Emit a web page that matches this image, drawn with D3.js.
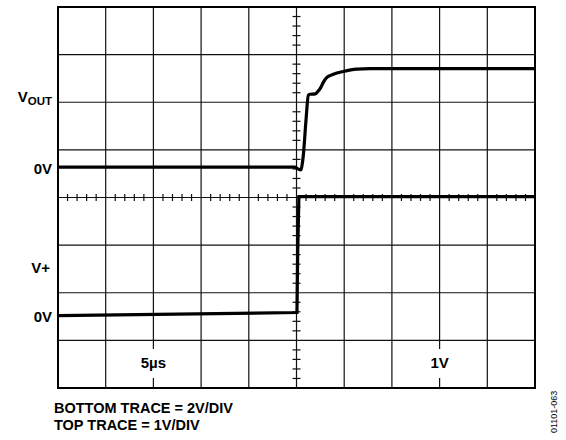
<!DOCTYPE html>
<html>
<head>
<meta charset="utf-8">
<script src="https://cdn.jsdelivr.net/npm/d3@7/dist/d3.min.js"></script>
<style>
  html, body { margin: 0; padding: 0; background: #fff; }
  svg { display: block; font-family: Arial, "Liberation Sans", Helvetica, sans-serif; }
</style>
</head>
<body>
<svg id="chart" width="566" height="440"></svg>
<script>
// Time axis: 5 µs per division, 10 divisions, trigger at centre
const timeDomainUs = [-25, 25];
// Vertical grid: 8 divisions
const divDomain = [-4, 4];

// Top trace (VOUT), 1 V/div
const topTimeUs = [-25, -0.2, 0.19, 0.44, 0.71, 1.0, 1.24, 1.4, 1.95, 2.2, 2.54, 2.81, 3.16, 3.86, 4.9, 6.3, 7.7, 25];
const topVolts  = [0, 0, -0.04, -0.06, 0.24, 1.0, 1.51, 1.53, 1.54, 1.58, 1.67, 1.78, 1.88, 1.95, 2.01, 2.06, 2.07, 2.07];
const topVoltsPerDiv = 1;
const topZeroDiv = 0.637;

// Bottom trace (V+), 2 V/div
const bottomTimeUs = [-25, 0.05, 0.12, 0.25, 25];
const bottomVolts  = [0, 0.13, 2.5, 5.0, 5.0];
const bottomVoltsPerDiv = 2;
const bottomZeroDiv = -2.48;

// Text
const leftLabels = ["V", "OUT", "0V", "V+", "0V"];
const scaleLabels = ["5µs", "1V"];
const noteLines = ["BOTTOM TRACE = 2V/DIV", "TOP TRACE = 1V/DIV"];
const figureId = "01101-063";

(function draw() {
  const svg = d3.select("#chart");
  const plotLeft = 58, plotRight = 535, plotTop = 7, plotBottom = 388;

  const x = d3.scaleLinear().domain(timeDomainUs).range([plotLeft, plotRight]);
  const y = d3.scaleLinear().domain(divDomain).range([plotBottom, plotTop]);

  const grid = svg.append("g").attr("stroke", "#111").attr("stroke-width", 1.2);

  // Major grid lines
  const xMajor = d3.range(timeDomainUs[0] + 5, timeDomainUs[1], 5);
  const yMajor = d3.range(divDomain[0] + 1, divDomain[1], 1);
  grid.selectAll("line.vx").data(xMajor).join("line").attr("class", "vx")
    .attr("x1", d => x(d)).attr("x2", d => x(d))
    .attr("y1", plotTop).attr("y2", plotBottom);
  grid.selectAll("line.hy").data(yMajor).join("line").attr("class", "hy")
    .attr("x1", plotLeft).attr("x2", plotRight)
    .attr("y1", d => y(d)).attr("y2", d => y(d));

  // Minor ticks on the centre cross-hair (5 per division)
  const xMinor = d3.range(timeDomainUs[0] + 1, timeDomainUs[1], 1).filter(d => d % 5 !== 0);
  const yMinor = d3.range(divDomain[0] * 5 + 1, divDomain[1] * 5, 1).filter(d => d % 5 !== 0).map(d => d / 5);
  grid.selectAll("line.mx").data(xMinor).join("line").attr("class", "mx")
    .attr("x1", d => x(d)).attr("x2", d => x(d))
    .attr("y1", y(0) - 3.5).attr("y2", y(0) + 3.5);
  grid.selectAll("line.my").data(yMinor).join("line").attr("class", "my")
    .attr("x1", x(0) - 4).attr("x2", x(0) + 4)
    .attr("y1", d => y(d)).attr("y2", d => y(d));

  // Frame
  svg.append("rect")
    .attr("x", plotLeft).attr("y", plotTop)
    .attr("width", plotRight - plotLeft).attr("height", plotBottom - plotTop)
    .attr("fill", "none").attr("stroke", "#000").attr("stroke-width", 2);

  // Traces
  const topPoints = topTimeUs.map((t, i) => [t, topZeroDiv + topVolts[i] / topVoltsPerDiv]);
  const bottomPoints = bottomTimeUs.map((t, i) => [t, bottomZeroDiv + bottomVolts[i] / bottomVoltsPerDiv]);

  svg.append("path")
    .datum(bottomPoints)
    .attr("fill", "none").attr("stroke", "#000").attr("stroke-width", 3.2)
    .attr("stroke-linejoin", "miter")
    .attr("d", d3.line().x(d => x(d[0])).y(d => y(d[1])));

  svg.append("path")
    .datum(topPoints)
    .attr("fill", "none").attr("stroke", "#000").attr("stroke-width", 3.2)
    .attr("stroke-linejoin", "round")
    .attr("d", d3.line().x(d => x(d[0])).y(d => y(d[1])).curve(d3.curveMonotoneX));

  // Left-hand trace labels
  const labelX = 52;
  const lab = svg.append("g").attr("font-weight", "bold").attr("fill", "#000").attr("text-anchor", "end");
  const vout = lab.append("text").attr("x", labelX).attr("y", y(topZeroDiv + 1.43) + 3).attr("font-size", 15);
  vout.append("tspan").text(leftLabels[0]);
  vout.append("tspan").attr("font-size", 11.5).attr("dy", 3).text(leftLabels[1]);
  lab.append("text").attr("x", labelX).attr("y", y(topZeroDiv) + 7).attr("font-size", 15).text(leftLabels[2]);
  lab.append("text").attr("x", labelX - 2).attr("y", y(bottomZeroDiv + 1) + 5).attr("font-size", 15).text(leftLabels[3]);
  lab.append("text").attr("x", labelX).attr("y", y(bottomZeroDiv) + 6).attr("font-size", 15).text(leftLabels[4]);

  // Scale annotations inside the bottom row
  const scaleX = [x(-15), x(15)];
  scaleLabels.forEach((t, i) => {
    const g = svg.append("g");
    g.append("rect")
      .attr("x", scaleX[i] - 16).attr("y", 349)
      .attr("width", 32).attr("height", 29).attr("fill", "#fff");
    g.append("text")
      .attr("x", scaleX[i]).attr("y", 368)
      .attr("text-anchor", "middle").attr("font-weight", "bold").attr("font-size", 15)
      .text(t);
  });

  // Notes below the screen
  noteLines.forEach((t, i) => {
    svg.append("text")
      .attr("x", 54).attr("y", 413 + i * 17)
      .attr("font-weight", "bold").attr("font-size", 14.5)
      .text(t);
  });

  // Figure number
  svg.append("text")
    .attr("transform", "translate(557,433) rotate(-90)")
    .attr("font-size", 9).attr("fill", "#000")
    .text(figureId);
})();
</script>
</body>
</html>
